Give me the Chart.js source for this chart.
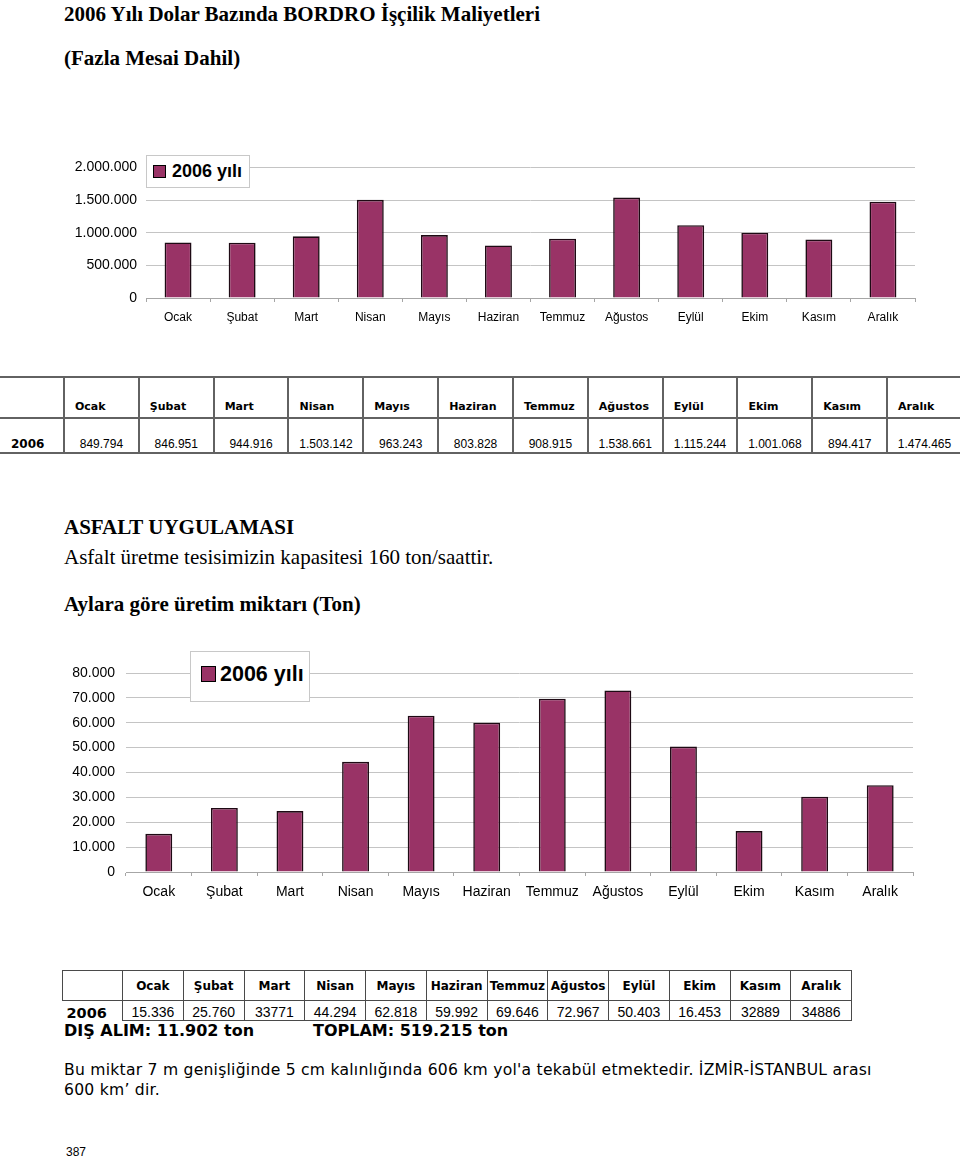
<!DOCTYPE html>
<html lang="tr">
<head>
<meta charset="utf-8">
<script src="https://cdn.jsdelivr.net/npm/chart.js@4/dist/chart.umd.min.js"></script>
<style>
  body { margin: 0; background: #fff; width: 960px; height: 1159px; position: relative; overflow: hidden; color: #000; }
  .abs { position: absolute; white-space: nowrap; }
  .serif { font-family: "Liberation Serif", "Times New Roman", serif; font-size: 21px; line-height: 21px; }
  .legend { position: absolute; background: #fff; border: 1px solid #c8c8c8; z-index: 2; font-family: "Liberation Sans", Arial, sans-serif; font-weight: bold; }
  .legend .sw { position: absolute; background: #993366; border: 1px solid #000; box-sizing: border-box; }
  .legend .tx { position: absolute; white-space: nowrap; }
  table { position: absolute; border-collapse: collapse; table-layout: fixed; }
  #t1 td { border: 2px solid #626262; padding: 0; font-family: "Liberation Sans", Arial, sans-serif; font-size: 12px; text-align: center; vertical-align: bottom; }
  #t1 tr.h td { height: 35px; font-family: "DejaVu Sans", Verdana, sans-serif; font-weight: bold; font-size: 11px; text-align: left; padding: 0 0 4px 10px; }
  #t1 tr.d td { height: 32px; padding-bottom: 1px; }
  #t2 td { border: 1px solid #4a4a4a; padding: 0; font-family: "Liberation Sans", Arial, sans-serif; font-size: 14px; text-align: center; }
  #t2 tr.h td { height: 29px; font-family: "DejaVu Sans", Verdana, sans-serif; font-weight: bold; font-size: 12px; }
  #t2 tr.d td { height: 19px; vertical-align: bottom; line-height: 15px; }
  .bold16 { font-family: "DejaVu Sans", Verdana, sans-serif; font-weight: bold; font-size: 16px; line-height: 18px; }
</style>
</head>
<body>

<div class="abs serif" style="left:64px;top:4px;font-weight:bold;">2006 Yılı Dolar Bazında BORDRO İşçilik Maliyetleri</div>
<div class="abs serif" style="left:64px;top:48px;font-weight:bold;">(Fazla Mesai Dahil)</div>

<canvas id="c1" width="960" height="180" style="position:absolute;left:0;top:150px;"></canvas>
<div class="legend" style="left:146px;top:155px;width:102px;height:31px;">
  <div class="sw" style="left:6px;top:9px;width:13px;height:13px;"></div>
  <div class="tx" style="left:25px;top:5px;font-size:18px;">2006 yılı</div>
</div>

<table id="t1" style="left:0;top:376px;width:962px;"></table>

<div class="abs serif" style="left:64px;top:517px;font-weight:bold;">ASFALT UYGULAMASI</div>
<div class="abs serif" style="left:64px;top:547px;">Asfalt üretme tesisimizin kapasitesi 160 ton/saattir.</div>
<div class="abs serif" style="left:64px;top:594px;font-weight:bold;">Aylara göre üretim miktarı (Ton)</div>

<canvas id="c2" width="960" height="252" style="position:absolute;left:0;top:650px;"></canvas>
<div class="legend" style="left:190px;top:651px;width:118px;height:49px;">
  <div class="sw" style="left:10px;top:14px;width:15px;height:16px;"></div>
  <div class="tx" style="left:29px;top:10px;font-size:21.5px;">2006 yılı</div>
</div>

<table id="t2" style="left:62px;top:970px;width:789px;"></table>

<div class="abs bold16" style="left:64px;top:1022px;">DIŞ ALIM: 11.902 ton</div>
<div class="abs bold16" style="left:313px;top:1022px;">TOPLAM: 519.215 ton</div>

<div class="abs" style="left:64px;top:1060px;font-family:'DejaVu Sans',Verdana,sans-serif;font-size:15.6px;letter-spacing:0.24px;line-height:20px;">Bu miktar 7 m genişliğinde 5 cm kalınlığında 606 km yol'a tekabül etmektedir. İZMİR-İSTANBUL arası<br>600 km’ dir.</div>

<div class="abs" style="left:66px;top:1145px;font-family:'Liberation Sans',Arial,sans-serif;font-size:12px;">387</div>

<script>
// months
const months = ["Ocak", "Şubat", "Mart", "Nisan", "Mayıs", "Haziran", "Temmuz", "Ağustos", "Eylül", "Ekim", "Kasım", "Aralık"];
const yearLabel = "2006";
const seriesLabel = "2006 yılı";

// payroll cost in USD (table 1 / chart 1)
const payroll = [849794, 846951, 944916, 1503142, 963243, 803828, 908915, 1538661, 1115244, 1001068, 894417, 1474465];

// asphalt production, tons, as drawn in chart 2
const asphaltBars = [15336, 25760, 24500, 44294, 62818, 59992, 69646, 72967, 50403, 16453, 30300, 34886];
// asphalt production as printed in table 2
const asphaltTable = ["15.336", "25.760", "33771", "44.294", "62.818", "59.992", "69.646", "72.967", "50.403", "16.453", "32889", "34886"];

const payrollTicks = [0, 500000, 1000000, 1500000, 2000000];
const asphaltTicks = [0, 10000, 20000, 30000, 40000, 50000, 60000, 70000, 80000];

const fmt = n => String(n).replace(/\B(?=(\d{3})+(?!\d))/g, ".");

const barColor = "#993366";
const barBorder = "#1e0a14";

const doBar = (id, values, ticks, o) => {
    const ctx = document.getElementById(id).getContext("2d");
    return new Chart(ctx, {
        "type": "bar",
        "data": {
            "labels": months,
            "datasets": [{
                "label": seriesLabel,
                "data": values,
                "backgroundColor": barColor,
                "borderColor": barBorder,
                "borderWidth": 1.6,
                "barPercentage": o.barPct,
                "categoryPercentage": 1
            }]
        },
        "options": {
            "responsive": false,
            "animation": false,
            "layout": { "padding": { "top": o.top, "right": o.right, "left": 0, "bottom": 0 } },
            "plugins": { "legend": { "display": false }, "tooltip": { "enabled": false } },
            "scales": {
                "x": {
                    "grid": { "display": true, "drawOnChartArea": false, "drawTicks": true, "tickLength": 4, "color": "#a6a6a6", "offset": true },
                    "border": { "display": true, "color": "#a6a6a6" },
                    "ticks": { "padding": o.xPad, "color": "#000", "font": { "family": "'Liberation Sans', Arial, sans-serif", "size": o.xFont }, "maxRotation": 0, "autoSkip": false },
                    "afterFit": s => { s.height = o.xHeight; }
                },
                "y": {
                    "min": 0,
                    "max": ticks[ticks.length - 1],
                    "afterBuildTicks": s => { s.ticks = ticks.map(v => ({ "value": v })); },
                    "ticks": { "padding": o.yPad, "color": "#000", "font": { "family": "'Liberation Sans', Arial, sans-serif", "size": o.yFont }, "callback": v => fmt(v) },
                    "grid": { "color": "#c4c4c4", "drawTicks": false },
                    "border": { "display": false },
                    "afterFit": s => { s.width = o.yWidth; }
                }
            }
        }
    });
};

doBar("c1", payroll, payrollTicks, { top: 15, right: 45, xHeight: 32, yWidth: 146, xPad: 8, yPad: 9, xFont: 12, yFont: 14, barPct: 0.42 });
doBar("c2", asphaltBars, asphaltTicks, { top: 23, right: 47, xHeight: 30, yWidth: 126, xPad: 8, yPad: 11, xFont: 14, yFont: 14, barPct: 0.41 });

// tables
const buildTable = (id, firstW, colW, values) => {
    const t = document.getElementById(id);
    let html = "<colgroup><col style=\"width:" + firstW + "px\">";
    months.forEach(() => { html += "<col style=\"width:" + colW + "px\">"; });
    html += "</colgroup>";
    html += "<tr class=\"h\"><td class=\"first\"></td>" + months.map(m => "<td>" + m + "</td>").join("") + "</tr>";
    html += "<tr class=\"d\"><td class=\"first\">" + yearLabel + "</td>" + values.map(v => "<td>" + v + "</td>").join("") + "</tr>";
    t.innerHTML = html;
    return t;
};

const t1 = buildTable("t1", 64, 74.83, payroll.map(fmt));
t1.querySelectorAll("td.first").forEach(td => { td.style.borderLeft = "none"; });
const y1 = t1.querySelector("tr.d td.first");
y1.style.cssText = "border-left:none;text-align:left;padding-left:11px;font-family:'DejaVu Sans',Verdana,sans-serif;font-weight:bold;font-size:12px;";

const t2 = buildTable("t2", 60, 60.75, asphaltTable);
const y2 = t2.querySelector("tr.d td.first");
y2.style.cssText = "border-left:none;border-bottom:none;text-align:left;padding-left:4px;font-family:'DejaVu Sans',Verdana,sans-serif;font-weight:bold;font-size:14.5px;line-height:15px;vertical-align:bottom;";
</script>
</body>
</html>
